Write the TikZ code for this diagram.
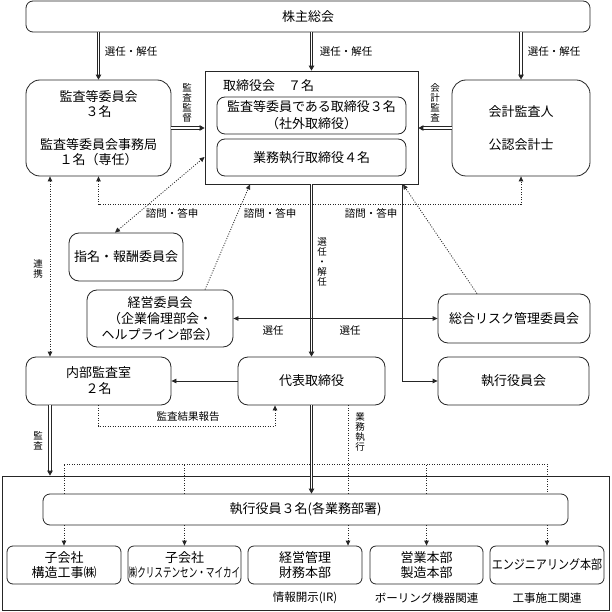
\documentclass[tikz,border=0pt]{standalone}
\usepackage{fontspec}
\usepackage{graphicx}
\setmainfont{Noto Sans CJK JP}
\usetikzlibrary{arrows.meta,calc}
\begin{document}
\begin{tikzpicture}[x=1pt,y=-1pt,
  ln/.style={draw=black!85, line width=0.8pt},
  box/.style={ln, rounded corners=7pt, inner sep=0pt, align=center, font=\fontsize{13}{16}\selectfont},
  tip/.style={-{Triangle[length=5pt,width=4.5pt]}},
  tipboth/.style={{Triangle[length=5pt,width=4.5pt]}-{Triangle[length=5pt,width=4.5pt]}},
  dbl/.style={draw=black!85, line width=0.9pt, double distance=1.5pt, -{Triangle[length=5pt,width=5.5pt]}},
  dot/.style={draw=black!85, line width=0.8pt, dash pattern=on 1pt off 1.5pt},
  lbl/.style={font=\fontsize{10.5}{12}\selectfont, inner sep=0pt},
  vlbl/.style={font=\fontsize{9.5}{10}\selectfont, align=center, inner sep=0pt},
  btm/.style={font=\fontsize{11.5}{14}\selectfont, inner sep=0pt},
  sbox/.style={box, rounded corners=6pt, minimum width=114pt, minimum height=38pt, font=\fontsize{13}{15}\selectfont}
]
\useasboundingbox (0,0) rectangle (611,612);
\fill[white] (0,0) rectangle (611,612);

% nodes
\node[box, minimum width=564pt, minimum height=31pt] (kabu) at (308,16.5) {株主総会};
\node[box, rounded corners=14pt, minimum width=145pt, minimum height=96pt, font=\fontsize{13}{15.5}\selectfont] (kansa) at (98.5,128) {監査等委員会\\３名\\[17pt]監査等委員会事務局\\１名（専任）};
\node[ln, rectangle, inner sep=0pt, minimum width=213pt, minimum height=113pt] (tori) at (311.5,127.5) {};
\node[anchor=west, inner sep=0pt, font=\fontsize{13}{16}\selectfont] (toriT) at (223,86) {取締役会　７名};
\node[box, rounded corners=8pt, minimum width=189pt, minimum height=37pt, font=\fontsize{13}{17}\selectfont] (in1) at (311.5,115.5) {監査等委員である取締役３名\\（社外取締役）};
\node[box, rounded corners=8pt, minimum width=189pt, minimum height=37pt] (in2) at (311.5,157.5) {業務執行取締役４名};
\node[box, rounded corners=14pt, minimum width=138pt, minimum height=96pt] (kaikei) at (521,128) {会計監査人\\[17pt]公認会計士};
\node[box, rounded corners=10pt, minimum width=114pt, minimum height=48pt] (shimei) at (126,257) {指名・報酬委員会};
\node[box, rounded corners=10pt, minimum width=146pt, minimum height=57pt] (keiei) at (160,318.5) {経営委員会\\（企業倫理部会・\\ヘルプライン部会）};
\node[box, rounded corners=10pt, minimum width=152pt, minimum height=49pt] (risk) at (514,318.5) {総合リスク管理委員会};
\node[box, rounded corners=10pt, minimum width=145pt, minimum height=48pt] (naibu) at (98.5,381) {内部監査室\\２名};
\node[box, rounded corners=10pt, minimum width=147pt, minimum height=48pt] (daihyo) at (311.5,381) {代表取締役};
\node[box, rounded corners=10pt, minimum width=151pt, minimum height=48pt] (shikkokai) at (513.5,381) {執行役員会};
\node[ln, rectangle, inner sep=0pt, minimum width=607pt, minimum height=134pt] (outer) at (305.5,543) {};
\node[box, minimum width=525pt, minimum height=31pt] (shikko3) at (305.5,509.5) {執行役員３名(各業務部署)};
\node[sbox] (b1) at (64,565) {子会社\\構造工事㈱};
\node[sbox, minimum width=113pt] (b2) at (184.5,565) {子会社\\\scalebox{0.66}[1]{㈱クリステンセン・マイカイ}};
\node[sbox] (b3) at (305,565) {経営管理\\財務本部};
\node[sbox, minimum width=113pt] (b4) at (426.5,565) {営業本部\\製造本部};
\node[sbox] (b5) at (547,565) {\scalebox{0.85}[1]{エンジニアリング本部}};
\node[btm] (ir) at (305,598) {情報開示(IR)};
\node[btm] (bor) at (426.5,598) {ボーリング機器関連};
\node[btm] (kou) at (547,598) {工事施工関連};

% labels
\node[lbl] (l1) at (131,52) {選任・解任};
\node[lbl] (l2) at (346,52) {選任・解任};
\node[lbl] (l3) at (554,52) {選任・解任};
\node[vlbl] (l4) at (187,103) {監\\査\\監\\督};
\node[vlbl] (l5) at (435,103) {会\\計\\監\\査};
\node[vlbl] (l6) at (38,269) {連\\携};
\node[lbl] (l7) at (172,213) {諮問・答申};
\node[lbl] (l8) at (270,213) {諮問・答申};
\node[lbl] (l9) at (371,213) {諮問・答申};
\node[vlbl] (l10) at (322,262) {選\\任\\・\\解\\任};
\node[lbl] (l11) at (273,331) {選任};
\node[lbl] (l12) at (350,331) {選任};
\node[lbl] (l13) at (188,417) {監査結果報告};
\node[vlbl] (l14) at (38,441) {監\\査};
\node[vlbl] (l15) at (360,432) {業\\務\\執\\行};

% coordinates
\coordinate (rx) at (50,0);
\coordinate (gx) at (348,0);
\coordinate (hl) at (0,464);

% double arrows
\draw[dbl] (kabu.south -| kansa.north) -- (kansa.north);
\draw[dbl] (kabu.south -| tori.north) -- (tori.north);
\draw[dbl] (kabu.south -| kaikei.north) -- (kaikei.north);
\draw[dbl] (kansa.east) -- (kansa.east -| tori.west);
\draw[dbl] (kaikei.west) -- (kaikei.west -| tori.east);
\draw[dbl] (tori.south) -- (daihyo.north);
\draw[dbl] (daihyo.south) -- (shikko3.north -| daihyo.south);
\draw[dbl] (naibu.south -| rx) -- (outer.north -| rx);

% dotted connectors
\draw[dot, tipboth] (kansa.south -| rx) -- (naibu.north -| rx);
\draw[dot, tipboth] (kansa.south) -- ++(0,28) -| (kaikei.south);
\draw[dot, tipboth] ([xshift=-11pt]shimei.north) -- ([yshift=-29.5pt]tori.west);
\draw[dot, tip] ([xshift=45pt]keiei.north) -- ([xshift=-61.5pt]tori.south);
\draw[dot, tip] ([xshift=-37pt]risk.north) -- ([xshift=91.5pt]tori.south);
\draw[dot, tip] (naibu.south) -- ++(0,21) -| ([xshift=-36.5pt]daihyo.south);
\draw[dot] (daihyo.south -| gx) -- (shikko3.north -| gx);
\draw[dot] (shikko3.north -| b1) -- (hl -| b1) -- (hl -| b5) -- (shikko3.north -| b5);
\draw[dot] (shikko3.north -| b2) -- (hl -| b2);
\draw[dot] (shikko3.north -| b4) -- (hl -| b4);
\draw[dot, tip] (shikko3.south -| b1) -- (b1.north);
\draw[dot, tip] (shikko3.south -| b2) -- (b2.north);
\draw[dot, tip] (shikko3.south -| gx) -- (b3.north -| gx);
\draw[dot, tip] (shikko3.south -| b4) -- (b4.north);
\draw[dot, tip] (shikko3.south -| b5) -- (b5.north);

% solid connectors
\draw[ln, tip] ([xshift=90.5pt]tori.south) |- (shikkokai.west);
\draw[ln, tipboth] (keiei.east) -- (risk.west);
\draw[ln, tip] (daihyo.west) -- (naibu.east);
\end{tikzpicture}
\end{document}
